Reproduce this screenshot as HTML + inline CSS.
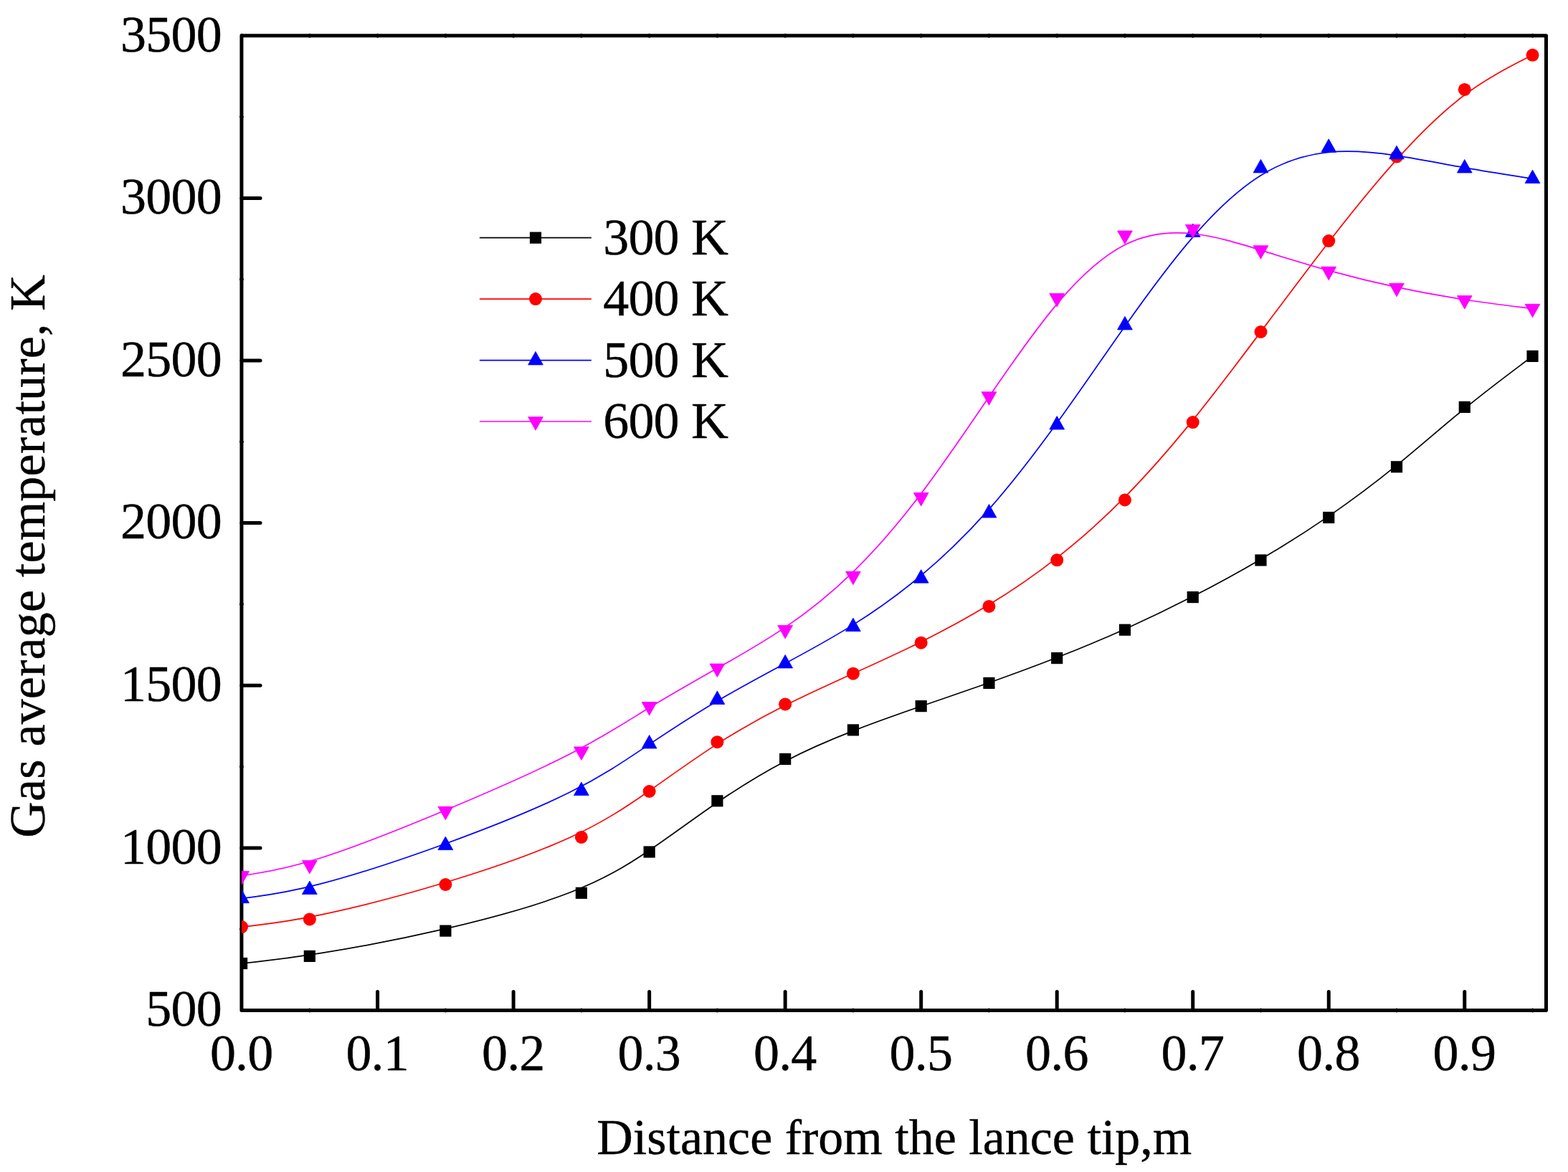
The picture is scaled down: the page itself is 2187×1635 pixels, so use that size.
<!DOCTYPE html>
<html lang="en">
<head>
<meta charset="utf-8">
<title>Gas average temperature vs distance from the lance tip</title>
<style>
html,body{margin:0;padding:0;background:#fff;}
body{width:2187px;height:1635px;overflow:hidden;}
svg{display:block;}
text{font-family:"Liberation Serif", serif;font-size:70px;fill:#000;stroke:#000;stroke-width:0.4px;stroke-linejoin:round;}
.d text,text.d{font-size:72px;letter-spacing:-0.8px;}
</style>
</head>
<body>
<svg role="img" aria-label="Gas average temperature versus distance from the lance tip" width="2187" height="1635" viewBox="0 0 2187 1635">
<rect width="2187" height="1635" fill="#fff"/>
<defs><clipPath id="plot"><rect x="336.95" y="49.75" width="1819.55" height="1359.75"/></clipPath></defs>
<g stroke="#000" stroke-width="5.00" stroke-linecap="round" stroke-linejoin="round" fill="none">
<rect x="336.95" y="49.75" width="1819.55" height="1359.75"/>
<line x1="526.62" y1="1409.50" x2="526.62" y2="1383.40"/>
<line x1="716.14" y1="1409.50" x2="716.14" y2="1383.40"/>
<line x1="905.66" y1="1409.50" x2="905.66" y2="1383.40"/>
<line x1="1095.18" y1="1409.50" x2="1095.18" y2="1383.40"/>
<line x1="1284.70" y1="1409.50" x2="1284.70" y2="1383.40"/>
<line x1="1474.22" y1="1409.50" x2="1474.22" y2="1383.40"/>
<line x1="1663.74" y1="1409.50" x2="1663.74" y2="1383.40"/>
<line x1="1853.26" y1="1409.50" x2="1853.26" y2="1383.40"/>
<line x1="2042.78" y1="1409.50" x2="2042.78" y2="1383.40"/>
<line x1="336.95" y1="1182.88" x2="363.05" y2="1182.88"/>
<line x1="336.95" y1="956.25" x2="363.05" y2="956.25"/>
<line x1="336.95" y1="729.62" x2="363.05" y2="729.62"/>
<line x1="336.95" y1="503.00" x2="363.05" y2="503.00"/>
<line x1="336.95" y1="276.38" x2="363.05" y2="276.38"/>
</g>
<g fill="#000">
<ellipse cx="337.10" cy="49.75" rx="2.1" ry="2.95"/>
<ellipse cx="431.86" cy="49.75" rx="2.1" ry="2.95"/>
<ellipse cx="431.86" cy="1409.50" rx="2.1" ry="2.95"/>
<ellipse cx="526.62" cy="49.75" rx="2.1" ry="2.95"/>
<ellipse cx="621.38" cy="49.75" rx="2.1" ry="2.95"/>
<ellipse cx="621.38" cy="1409.50" rx="2.1" ry="2.95"/>
<ellipse cx="716.14" cy="49.75" rx="2.1" ry="2.95"/>
<ellipse cx="810.90" cy="49.75" rx="2.1" ry="2.95"/>
<ellipse cx="810.90" cy="1409.50" rx="2.1" ry="2.95"/>
<ellipse cx="905.66" cy="49.75" rx="2.1" ry="2.95"/>
<ellipse cx="1000.42" cy="49.75" rx="2.1" ry="2.95"/>
<ellipse cx="1000.42" cy="1409.50" rx="2.1" ry="2.95"/>
<ellipse cx="1095.18" cy="49.75" rx="2.1" ry="2.95"/>
<ellipse cx="1189.94" cy="49.75" rx="2.1" ry="2.95"/>
<ellipse cx="1189.94" cy="1409.50" rx="2.1" ry="2.95"/>
<ellipse cx="1284.70" cy="49.75" rx="2.1" ry="2.95"/>
<ellipse cx="1379.46" cy="49.75" rx="2.1" ry="2.95"/>
<ellipse cx="1379.46" cy="1409.50" rx="2.1" ry="2.95"/>
<ellipse cx="1474.22" cy="49.75" rx="2.1" ry="2.95"/>
<ellipse cx="1568.98" cy="49.75" rx="2.1" ry="2.95"/>
<ellipse cx="1568.98" cy="1409.50" rx="2.1" ry="2.95"/>
<ellipse cx="1663.74" cy="49.75" rx="2.1" ry="2.95"/>
<ellipse cx="1758.50" cy="49.75" rx="2.1" ry="2.95"/>
<ellipse cx="1758.50" cy="1409.50" rx="2.1" ry="2.95"/>
<ellipse cx="1853.26" cy="49.75" rx="2.1" ry="2.95"/>
<ellipse cx="1948.02" cy="49.75" rx="2.1" ry="2.95"/>
<ellipse cx="1948.02" cy="1409.50" rx="2.1" ry="2.95"/>
<ellipse cx="2042.78" cy="49.75" rx="2.1" ry="2.95"/>
<ellipse cx="2137.54" cy="49.75" rx="2.1" ry="2.95"/>
<ellipse cx="2137.54" cy="1409.50" rx="2.1" ry="2.95"/>
<ellipse cx="336.95" cy="1296.19" rx="2.95" ry="2.1"/>
<ellipse cx="336.95" cy="1069.56" rx="2.95" ry="2.1"/>
<ellipse cx="336.95" cy="842.94" rx="2.95" ry="2.1"/>
<ellipse cx="336.95" cy="616.31" rx="2.95" ry="2.1"/>
<ellipse cx="336.95" cy="389.69" rx="2.95" ry="2.1"/>
<ellipse cx="336.95" cy="163.06" rx="2.95" ry="2.1"/>
</g>
<g clip-path="url(#plot)">
<path d="M337.10 1344.00C337.10 1344.00 337.10 1344.00 352.89 1342.32C368.69 1340.63 400.27 1337.27 447.65 1329.70C495.03 1322.13 558.21 1310.37 621.38 1295.68C684.55 1281.00 747.73 1263.40 795.11 1245.05C842.49 1226.70 874.07 1207.60 905.66 1186.18C937.25 1164.77 968.83 1141.03 1000.42 1119.43C1032.01 1097.83 1063.59 1078.37 1095.18 1061.88C1126.77 1045.40 1158.35 1031.90 1189.94 1019.60C1221.53 1007.30 1253.11 996.20 1284.70 985.28C1316.29 974.37 1347.87 963.63 1379.46 952.47C1411.05 941.30 1442.63 929.70 1474.22 917.33C1505.81 904.97 1537.39 891.83 1568.98 877.67C1600.57 863.50 1632.15 848.30 1663.74 832.10C1695.33 815.90 1726.91 798.70 1758.50 780.18C1790.09 761.67 1821.67 741.83 1853.26 720.13C1884.85 698.43 1916.43 674.87 1948.02 649.18C1979.61 623.50 2011.19 595.70 2042.78 569.97C2074.37 544.23 2105.95 520.57 2121.75 508.73C2137.54 496.90 2137.54 496.90 2137.54 496.90" fill="none" stroke="#000000" stroke-width="1.70" stroke-linejoin="round"/>
<g fill="#000000"><rect x="329.00" y="1335.90" width="16.20" height="16.20"/><rect x="423.76" y="1325.80" width="16.20" height="16.20"/><rect x="613.28" y="1290.50" width="16.20" height="16.20"/><rect x="802.80" y="1237.70" width="16.20" height="16.20"/><rect x="897.56" y="1180.40" width="16.20" height="16.20"/><rect x="992.32" y="1109.20" width="16.20" height="16.20"/><rect x="1087.08" y="1050.80" width="16.20" height="16.20"/><rect x="1181.84" y="1010.30" width="16.20" height="16.20"/><rect x="1276.60" y="977.00" width="16.20" height="16.20"/><rect x="1371.36" y="944.80" width="16.20" height="16.20"/><rect x="1466.12" y="910.00" width="16.20" height="16.20"/><rect x="1560.88" y="870.60" width="16.20" height="16.20"/><rect x="1655.64" y="825.00" width="16.20" height="16.20"/><rect x="1750.40" y="773.40" width="16.20" height="16.20"/><rect x="1845.16" y="713.90" width="16.20" height="16.20"/><rect x="1939.92" y="643.20" width="16.20" height="16.20"/><rect x="2034.68" y="559.80" width="16.20" height="16.20"/><rect x="2129.44" y="488.80" width="16.20" height="16.20"/></g>
<path d="M337.10 1293.10C337.10 1293.10 337.10 1293.10 352.89 1291.32C368.69 1289.53 400.27 1285.97 447.65 1276.12C495.03 1266.27 558.21 1250.13 621.38 1231.05C684.55 1211.97 747.73 1189.93 795.11 1168.27C842.49 1146.60 874.07 1125.30 905.66 1103.18C937.25 1081.07 968.83 1058.13 1000.42 1037.87C1032.01 1017.60 1063.59 1000.00 1095.18 984.08C1126.77 968.17 1158.35 953.93 1189.94 939.65C1221.53 925.37 1253.11 911.03 1284.70 895.40C1316.29 879.77 1347.87 862.83 1379.46 843.60C1411.05 824.37 1442.63 802.83 1474.22 778.10C1505.81 753.37 1537.39 725.43 1568.98 693.40C1600.57 661.37 1632.15 625.23 1663.74 586.15C1695.33 547.07 1726.91 505.03 1758.50 462.87C1790.09 420.70 1821.67 378.40 1853.26 337.67C1884.85 296.93 1916.43 257.77 1948.02 222.58C1979.61 187.38 2011.19 156.17 2042.78 132.53C2074.37 108.90 2105.95 92.85 2121.75 84.83C2137.54 76.80 2137.54 76.80 2137.54 76.80" fill="none" stroke="#ff0000" stroke-width="1.70" stroke-linejoin="round"/>
<g fill="#ff0000"><circle cx="337.10" cy="1293.10" r="9.00"/><circle cx="431.86" cy="1282.40" r="9.00"/><circle cx="621.38" cy="1234.00" r="9.00"/><circle cx="810.90" cy="1167.90" r="9.00"/><circle cx="905.66" cy="1104.00" r="9.00"/><circle cx="1000.42" cy="1035.20" r="9.00"/><circle cx="1095.18" cy="982.40" r="9.00"/><circle cx="1189.94" cy="939.70" r="9.00"/><circle cx="1284.70" cy="896.70" r="9.00"/><circle cx="1379.46" cy="845.90" r="9.00"/><circle cx="1474.22" cy="781.30" r="9.00"/><circle cx="1568.98" cy="697.50" r="9.00"/><circle cx="1663.74" cy="589.10" r="9.00"/><circle cx="1758.50" cy="463.00" r="9.00"/><circle cx="1853.26" cy="336.10" r="9.00"/><circle cx="1948.02" cy="218.60" r="9.00"/><circle cx="2042.78" cy="124.95" r="9.00"/><circle cx="2137.54" cy="76.80" r="9.00"/></g>
<path d="M337.10 1253.40C337.10 1253.40 337.10 1253.40 352.89 1251.37C368.69 1249.33 400.27 1245.27 447.65 1232.92C495.03 1220.57 558.21 1199.93 621.38 1176.95C684.55 1153.97 747.73 1128.63 795.11 1105.03C842.49 1081.43 874.07 1059.57 905.66 1038.38C937.25 1017.18 968.83 996.67 1000.42 977.99C1032.01 959.32 1063.59 942.48 1095.18 925.52C1126.77 908.55 1158.35 891.45 1189.94 871.65C1221.53 851.85 1253.11 829.35 1284.70 802.91C1316.29 776.47 1347.87 746.08 1379.46 710.39C1411.05 674.70 1442.63 633.70 1474.22 590.02C1505.81 546.33 1537.39 499.97 1568.98 455.22C1600.57 410.47 1632.15 367.33 1663.74 330.83C1695.33 294.33 1726.91 264.47 1758.50 244.77C1790.09 225.07 1821.67 215.53 1853.26 212.35C1884.85 209.17 1916.43 212.33 1948.02 217.12C1979.61 221.90 2011.19 228.30 2042.78 233.93C2074.37 239.57 2105.95 244.43 2121.75 246.87C2137.54 249.30 2137.54 249.30 2137.54 249.30" fill="none" stroke="#0000ff" stroke-width="1.70" stroke-linejoin="round"/>
<g fill="#0000ff" stroke="#0000ff" stroke-width="0.80" stroke-linejoin="round"><path d="M337.10 1241.20L347.50 1259.70L326.70 1259.70Z"/><path d="M431.86 1229.00L442.26 1247.50L421.46 1247.50Z"/><path d="M621.38 1167.10L631.78 1185.60L610.98 1185.60Z"/><path d="M810.90 1091.10L821.30 1109.60L800.50 1109.60Z"/><path d="M905.66 1025.50L916.06 1044.00L895.26 1044.00Z"/><path d="M1000.42 963.95L1010.82 982.45L990.02 982.45Z"/><path d="M1095.18 913.45L1105.58 931.95L1084.78 931.95Z"/><path d="M1189.94 862.15L1200.34 880.65L1179.54 880.65Z"/><path d="M1284.70 794.65L1295.10 813.15L1274.30 813.15Z"/><path d="M1379.46 703.50L1389.86 722.00L1369.06 722.00Z"/><path d="M1474.22 580.50L1484.62 599.00L1463.82 599.00Z"/><path d="M1568.98 441.40L1579.38 459.90L1558.58 459.90Z"/><path d="M1663.74 312.00L1674.14 330.50L1653.34 330.50Z"/><path d="M1758.50 222.40L1768.90 240.90L1748.10 240.90Z"/><path d="M1853.26 193.80L1863.66 212.30L1842.86 212.30Z"/><path d="M1948.02 203.30L1958.42 221.80L1937.62 221.80Z"/><path d="M2042.78 222.50L2053.18 241.00L2032.38 241.00Z"/><path d="M2137.54 237.10L2147.94 255.60L2127.14 255.60Z"/></g>
<path d="M337.10 1221.80C337.10 1221.80 337.10 1221.80 352.89 1219.28C368.69 1216.77 400.27 1211.73 447.65 1196.70C495.03 1181.67 558.21 1156.63 621.38 1130.22C684.55 1103.80 747.73 1076.00 795.11 1051.71C842.49 1027.42 874.07 1006.63 905.66 987.33C937.25 968.02 968.83 950.18 1000.42 932.32C1032.01 914.47 1063.59 896.58 1095.18 875.12C1126.77 853.65 1158.35 828.60 1189.94 797.78C1221.53 766.97 1253.11 730.38 1284.70 688.62C1316.29 646.87 1347.87 599.93 1379.46 553.60C1411.05 507.27 1442.63 461.53 1474.22 424.08C1505.81 386.63 1537.39 357.47 1568.98 341.45C1600.57 325.43 1632.15 322.57 1663.74 326.02C1695.33 329.47 1726.91 339.23 1758.50 349.03C1790.09 358.83 1821.67 368.67 1853.26 377.43C1884.85 386.20 1916.43 393.90 1948.02 400.63C1979.61 407.37 2011.19 413.13 2042.78 417.97C2074.37 422.80 2105.95 426.70 2121.75 428.65C2137.54 430.60 2137.54 430.60 2137.54 430.60" fill="none" stroke="#ff00ff" stroke-width="1.70" stroke-linejoin="round"/>
<g fill="#ff00ff" stroke="#ff00ff" stroke-width="0.80" stroke-linejoin="round"><path d="M337.10 1234.00L347.50 1215.50L326.70 1215.50Z"/><path d="M431.86 1218.90L442.26 1200.40L421.46 1200.40Z"/><path d="M621.38 1143.80L631.78 1125.30L610.98 1125.30Z"/><path d="M810.90 1060.40L821.30 1041.90L800.50 1041.90Z"/><path d="M905.66 998.05L916.06 979.55L895.26 979.55Z"/><path d="M1000.42 944.55L1010.82 926.05L990.02 926.05Z"/><path d="M1095.18 890.90L1105.58 872.40L1084.78 872.40Z"/><path d="M1189.94 815.75L1200.34 797.25L1179.54 797.25Z"/><path d="M1284.70 706.00L1295.10 687.50L1274.30 687.50Z"/><path d="M1379.46 565.20L1389.86 546.70L1369.06 546.70Z"/><path d="M1474.22 428.00L1484.62 409.50L1463.82 409.50Z"/><path d="M1568.98 340.50L1579.38 322.00L1558.58 322.00Z"/><path d="M1663.74 331.90L1674.14 313.40L1653.34 313.40Z"/><path d="M1758.50 361.20L1768.90 342.70L1748.10 342.70Z"/><path d="M1853.26 390.70L1863.66 372.20L1842.86 372.20Z"/><path d="M1948.02 413.80L1958.42 395.30L1937.62 395.30Z"/><path d="M2042.78 431.10L2053.18 412.60L2032.38 412.60Z"/><path d="M2137.54 442.80L2147.94 424.30L2127.14 424.30Z"/></g>
</g>
<g class="d">
<text x="203.25" y="1431.25">500</text>
<text x="168.05" y="1204.62">1000</text>
<text x="168.05" y="978.00">1500</text>
<text x="168.05" y="751.38">2000</text>
<text x="168.05" y="524.75">2500</text>
<text x="168.05" y="298.12">3000</text>
<text x="168.05" y="71.50">3500</text>
<text x="292.90" y="1493.20">0.0</text>
<text x="482.42" y="1493.20">0.1</text>
<text x="671.94" y="1493.20">0.2</text>
<text x="861.46" y="1493.20">0.3</text>
<text x="1050.98" y="1493.20">0.4</text>
<text x="1240.50" y="1493.20">0.5</text>
<text x="1430.02" y="1493.20">0.6</text>
<text x="1619.54" y="1493.20">0.7</text>
<text x="1809.06" y="1493.20">0.8</text>
<text x="1998.58" y="1493.20">0.9</text>
</g>
<text x="832.3" y="1609.5">Distance from the lance tip,m</text>
<text transform="translate(62.3 775.8) rotate(-90)" text-anchor="middle" style="letter-spacing:0.17px">Gas average temperature, K</text>
<line x1="668.9" y1="331.70" x2="824.9" y2="331.70" stroke="#000000" stroke-width="1.70"/>
<g fill="#000000"><rect x="738.90" y="323.60" width="16.20" height="16.20"/></g>
<text class="d" x="841.2" y="354.90">300 K</text>
<line x1="668.9" y1="417.10" x2="824.9" y2="417.10" stroke="#ff0000" stroke-width="1.70"/>
<g fill="#ff0000"><circle cx="747.00" cy="417.10" r="9.00"/></g>
<text class="d" x="841.2" y="440.30">400 K</text>
<line x1="668.9" y1="502.60" x2="824.9" y2="502.60" stroke="#0000ff" stroke-width="1.70"/>
<g fill="#0000ff" stroke="#0000ff" stroke-width="0.80" stroke-linejoin="round"><path d="M747.00 490.40L757.40 508.90L736.60 508.90Z"/></g>
<text class="d" x="841.2" y="525.80">500 K</text>
<line x1="668.9" y1="588.00" x2="824.9" y2="588.00" stroke="#ff00ff" stroke-width="1.70"/>
<g fill="#ff00ff" stroke="#ff00ff" stroke-width="0.80" stroke-linejoin="round"><path d="M747.00 600.20L757.40 581.70L736.60 581.70Z"/></g>
<text class="d" x="841.2" y="611.20">600 K</text>
</svg>
</body>
</html>
